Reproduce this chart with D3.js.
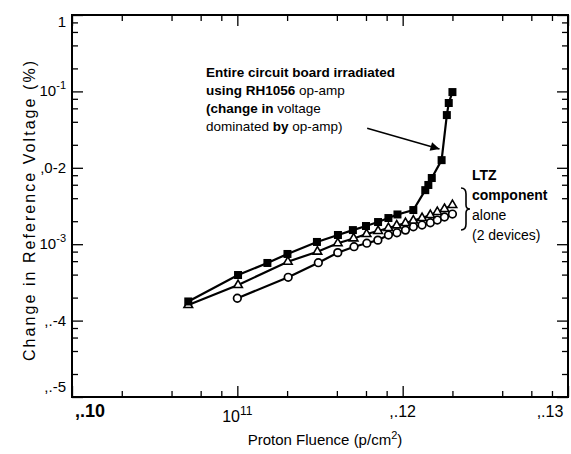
<!DOCTYPE html>
<html>
<head>
<meta charset="utf-8">
<script src="https://cdn.jsdelivr.net/npm/d3@7"></script>
<style>
  body { margin: 0; background: #fff; }
  text { font-family: "Liberation Sans", Arial, sans-serif; fill: #000; }
</style>
</head>
<body>
<div id="chart"></div>
<script>
// whole circuit board (filled squares)
const fluenceBoard = [5.05e10, 1.01e11, 1.52e11, 2.01e11, 3.03e11, 4.06e11, 5.0e11, 6.0e11, 7.1e11, 8.2e11, 9.3e11, 1.16e12, 1.37e12, 1.43e12, 1.5e12, 1.72e12, 1.85e12, 1.9e12, 2.0e12];
const changeBoard = [1.78e-4, 3.95e-4, 5.68e-4, 7.45e-4, 1.07e-3, 1.32e-3, 1.53e-3, 1.73e-3, 1.95e-3, 2.2e-3, 2.45e-3, 2.8e-3, 5.1e-3, 5.96e-3, 7.35e-3, 1.26e-2, 4.9e-2, 7.05e-2, 9.8e-2];
// LTZ device 1 (open triangles)
const fluenceLtzA = [5.05e10, 1.01e11, 2.02e11, 3.05e11, 4.05e11, 5.05e11, 6.05e11, 7.1e11, 8.2e11, 9.2e11, 1.04e12, 1.16e12, 1.31e12, 1.47e12, 1.62e12, 1.79e12, 2.0e12];
const changeLtzA = [1.6e-4, 2.92e-4, 5.9e-4, 7.98e-4, 1.03e-3, 1.19e-3, 1.36e-3, 1.49e-3, 1.63e-3, 1.76e-3, 1.89e-3, 2.04e-3, 2.2e-3, 2.41e-3, 2.64e-3, 2.89e-3, 3.26e-3];
// LTZ device 2 (open circles)
const fluenceLtzB = [1.0e11, 2.03e11, 3.09e11, 4.05e11, 5.08e11, 6.07e11, 7.08e11, 8.2e11, 9.23e11, 1.04e12, 1.16e12, 1.31e12, 1.47e12, 1.62e12, 1.79e12, 2.0e12];
const changeLtzB = [1.96e-4, 3.69e-4, 5.73e-4, 7.75e-4, 9.27e-4, 1.03e-3, 1.13e-3, 1.32e-3, 1.41e-3, 1.53e-3, 1.69e-3, 1.78e-3, 1.91e-3, 2.07e-3, 2.27e-3, 2.48e-3];

// tick labels as printed (scan artefacts kept)
const xTickVals = [1e10, 1e11, 1e12, 1e13];
const xTickText = [[",.10", ""], ["10", "11"], [",.12", ""], [",.13", ""]];
const yTickVals = [1, 1e-1, 1e-2, 1e-3, 1e-4, 1e-5];
const yTickText = [["1", ""], ["10", "-1"], [",0-2", ""], ["10", "-3"], [",.-4", ""], [",.-5", ""]];

const margin = { top: 15, right: 3, bottom: 57, left: 72 };
const width = 571 - margin.left - margin.right;
const height = 454 - margin.top - margin.bottom;

const svg = d3.select("#chart")
  .append("svg")
  .attr("width", 571)
  .attr("height", 454)
  .append("g")
  .attr("transform", `translate(${margin.left},${margin.top})`);

const x = d3.scaleLog().domain([1e10, 1e13]).range([0, width]);
const y = d3.scaleLog().domain([1e-5, 1]).range([height, 0]);

function minors(lo, hi) {
  const out = [];
  for (let d = lo; d < hi; d *= 10) [2, 4, 6, 8].forEach(m => out.push(d * m));
  return out;
}
const xMinor = minors(1e10, 1e13);
const yMinor = minors(1e-5, 1);

// tick marks on all four sides, pointing in
const frame = [
  [d3.axisBottom, x, xMinor, xTickVals, `translate(0,${height})`],
  [d3.axisTop, x, xMinor, xTickVals, null],
  [d3.axisLeft, y, yMinor, yTickVals, null],
  [d3.axisRight, y, yMinor, yTickVals, `translate(${width},0)`]
];
frame.forEach(([mk, sc, mv, major, tr]) => {
  [[mv, 6], [major, 11]].forEach(([vals, len]) => {
    const g = svg.append("g")
      .call(mk(sc).tickValues(vals).tickSize(-len).tickFormat(""));
    if (tr) g.attr("transform", tr);
    g.selectAll(".domain").remove();
    g.selectAll("line").attr("stroke", "#000").attr("stroke-width", 1.3);
  });
});

svg.append("rect")
  .attr("width", width).attr("height", height)
  .attr("fill", "none").attr("stroke", "#000").attr("stroke-width", 2);

// x tick labels
xTickVals.forEach((v, i) => {
  const t = svg.append("text")
    .attr("x", x(v) + (i === 0 ? 18 : i === 3 ? -18 : 0))
    .attr("y", height + (i === 1 ? 25 : 20))
    .attr("text-anchor", "middle")
    .style("font-size", i === 0 ? "18px" : "16px")
    .style("font-weight", i === 0 ? "bold" : "normal");
  t.append("tspan").text(xTickText[i][0]);
  if (xTickText[i][1]) t.append("tspan").attr("dy", -7).style("font-size", "12px").text(xTickText[i][1]);
});

// y tick labels
yTickVals.forEach((v, i) => {
  const t = svg.append("text")
    .attr("x", -6)
    .attr("y", y(v) + 5 + (i === 0 ? 7 : i === 5 ? -10 : 0))
    .attr("text-anchor", "end")
    .style("font-size", "15px");
  t.append("tspan").text(yTickText[i][0]);
  if (yTickText[i][1]) t.append("tspan").attr("dy", -7).style("font-size", "11px").text(yTickText[i][1]);
});

// axis titles
const xl = svg.append("text")
  .attr("x", 253).attr("y", height + 48)
  .attr("text-anchor", "middle")
  .style("font-size", "15px");
xl.append("tspan").text("Proton Fluence (p/cm");
xl.append("tspan").attr("dy", -6).style("font-size", "11px").text("2");
xl.append("tspan").attr("dy", 6).text(")");

svg.append("text")
  .attr("transform", "rotate(-90)")
  .attr("x", -196).attr("y", -37)
  .attr("text-anchor", "middle")
  .attr("textLength", 300).attr("lengthAdjust", "spacing")
  .style("font-size", "16px")
  .text("Change in Reference Voltage (%)");

// series
const line = d3.line().x(d => x(d[0])).y(d => y(d[1]));
const board = fluenceBoard.map((f, i) => [f, changeBoard[i]]);
const ltzA = fluenceLtzA.map((f, i) => [f, changeLtzA[i]]);
const ltzB = fluenceLtzB.map((f, i) => [f, changeLtzB[i]]);

[ltzB, ltzA, board].forEach(s => {
  svg.append("path").datum(s)
    .attr("fill", "none").attr("stroke", "#000").attr("stroke-width", 2.2)
    .attr("d", line);
});

svg.selectAll(".circ").data(ltzB).enter().append("circle")
  .attr("cx", d => x(d[0])).attr("cy", d => y(d[1])).attr("r", 3.8)
  .attr("fill", "#fff").attr("stroke", "#000").attr("stroke-width", 1.7);

svg.selectAll(".tri").data(ltzA).enter().append("path")
  .attr("transform", d => `translate(${x(d[0])},${y(d[1])})`)
  .attr("d", d3.symbol(d3.symbolTriangle, 32))
  .attr("fill", "#fff").attr("stroke", "#000").attr("stroke-width", 1.6);

svg.selectAll(".sq").data(board).enter().append("rect")
  .attr("x", d => x(d[0]) - 4).attr("y", d => y(d[1]) - 4)
  .attr("width", 8).attr("height", 8)
  .attr("fill", "#000");

// annotation: whole board
const note = svg.append("g").style("font-size", "13.5px");
const nl = [
  [["Entire circuit board irradiated", "bold"]],
  [["using RH1056 ", "bold"], ["op-amp", "normal"]],
  [["(change in ", "bold"], ["voltage", "normal"]],
  [["dominated ", "normal"], ["by ", "bold"], ["op-amp)", "normal"]]
];
nl.forEach((parts, i) => {
  const t = note.append("text").attr("x", 134).attr("y", 62 + i * 18);
  parts.forEach(p => t.append("tspan").style("font-weight", p[1]).text(p[0]));
});

svg.append("defs").append("marker")
  .attr("id", "arr").attr("viewBox", "0 0 10 10")
  .attr("refX", 10).attr("refY", 5)
  .attr("markerWidth", 12).attr("markerHeight", 9)
  .attr("markerUnits", "userSpaceOnUse")
  .attr("orient", "auto")
  .append("path").attr("d", "M0,0L10,5L0,10Z").attr("fill", "#000");

svg.append("line")
  .attr("x1", x(6.1e11)).attr("y1", y(3.3e-2))
  .attr("x2", x(1.67e12)).attr("y2", y(1.76e-2))
  .attr("stroke", "#000").attr("stroke-width", 1.5)
  .attr("marker-end", "url(#arr)");

// annotation: LTZ
const lt = svg.append("g").style("font-size", "14px");
[["LTZ", "bold"], ["component", "bold"], ["alone", "normal"], ["(2 devices)", "normal"]].forEach((p, i) => {
  lt.append("text").attr("x", 400).attr("y", 165 + i * 20).style("font-weight", p[1]).text(p[0]);
});
// brace
const bx = 389, by0 = 173, by1 = 215, bm = (by0 + by1) / 2;
svg.append("path")
  .attr("d", `M${bx},${by0} q5,0 5,6 v${bm - by0 - 10} q0,4 4,4 q-4,0 -4,4 v${by1 - bm - 10} q0,6 -5,6`)
  .attr("fill", "none").attr("stroke", "#000").attr("stroke-width", 1.6);
</script>
</body>
</html>
